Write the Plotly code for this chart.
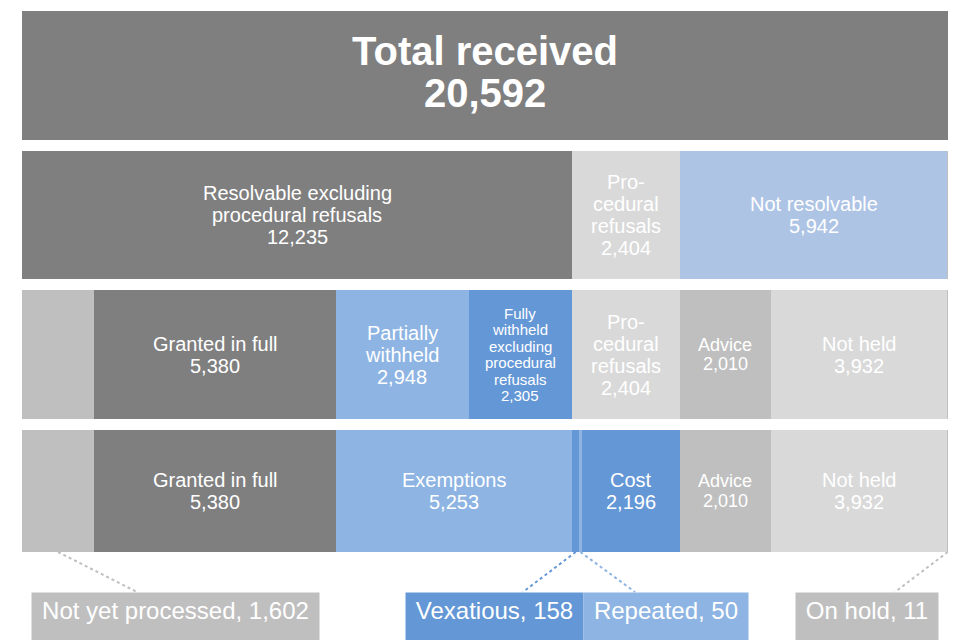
import plotly.graph_objects as go

# ---- data -------------------------------------------------------------
TOTAL_RECEIVED = 20592

row1_labels = ["Total received"]
row1_values = [20592]

row2_labels = ["Resolvable excluding<br>procedural refusals", "Pro-<br>cedural<br>refusals",
               "Not resolvable", ""]
row2_values = [12235, 2404, 5942, 11]

row3_labels = ["", "Granted in full", "Partially<br>withheld",
               "Fully<br>withheld<br>excluding<br>procedural<br>refusals",
               "Pro-<br>cedural<br>refusals", "Advice", "Not held", ""]
row3_values = [1602, 5380, 2948, 2305, 2404, 2010, 3932, 11]

row4_labels = ["", "Granted in full", "Exemptions", "", "", "Cost", "Advice", "Not held", ""]
row4_values = [1602, 5380, 5253, 158, 50, 2196, 2010, 3932, 11]

callout_labels = ["Not yet processed", "Vexatious", "Repeated", "On hold"]
callout_values = [1602, 158, 50, 11]
callout_segment = [0, 3, 4, 8]  # row-4 segment each callout points at

# ---- styles -----------------------------------------------------------
DARK = "#7f7f7f"
LIGHT = "#d9d9d9"
MID = "#bfbfbf"
BLUE_L = "#8db4e2"
BLUE_M = "#6497d6"
BLUE_P = "#aec4e5"
FONT = "Liberation Sans, Arial, sans-serif"

L_MARGIN, R_MARGIN, W, H = 22, 12, 960, 640
PLOT_W = W - L_MARGIN - R_MARGIN

rows = [
    dict(labels=row1_labels, values=row1_values, colors=[DARK], sizes=[40],
         y=75.5, h=129, bold=True, spacing=1.05, shift=-4),
    dict(labels=row2_labels, values=row2_values, colors=[DARK, LIGHT, BLUE_P, MID],
         sizes=[20, 20, 20, 10], y=215, h=128),
    dict(labels=row3_labels, values=row3_values,
         colors=[MID, DARK, BLUE_L, BLUE_M, LIGHT, MID, LIGHT, MID],
         sizes=[10, 20, 20, 15, 20, 18, 20, 10], y=354.5, h=129),
    dict(labels=row4_labels, values=row4_values,
         colors=[MID, DARK, BLUE_L, BLUE_M, BLUE_L, BLUE_M, MID, LIGHT, MID],
         sizes=[10, 20, 20, 10, 10, 20, 18, 20, 10], y=491, h=122),
]


def px_to_x(p):
    return (p - L_MARGIN) / PLOT_W * TOTAL_RECEIVED


fig = go.Figure()
row4_bases = []
for r in rows:
    bases, acc = [], 0
    for v in r["values"]:
        bases.append(acc)
        acc += v
    fig.add_trace(go.Bar(
        orientation="h", x=r["values"], base=bases, y=[r["y"]] * len(r["values"]),
        width=[r["h"]] * len(r["values"]),
        marker=dict(color=r["colors"], line=dict(width=0)),
        hoverinfo="skip", showlegend=False,
    ))
    row4_bases = bases

    # segment labels, one line at a time so the line spacing stays tight
    for lab, v, b, size in zip(r["labels"], r["values"], bases, r["sizes"]):
        if not lab:
            continue
        lines = lab.split("<br>") + [f"{v:,}"]
        step = size * r.get("spacing", 1.1)
        top = r["y"] + r.get("shift", 0) - step * (len(lines) - 1) / 2
        for k, line in enumerate(lines):
            fig.add_annotation(
                x=b + v / 2, y=top + k * step, xref="x", yref="y",
                text=f"<b>{line}</b>" if r.get("bold") else line, showarrow=False,
                xanchor="center", yanchor="middle",
                font=dict(color="white", size=size, family=FONT),
            )

# callout boxes below the last row
box_left = [31, 405, 583, 795]
box_width = [287, 177, 164, 142]
box_color = [MID, BLUE_M, BLUE_L, MID]
line_end = [137, 523, 635, 895]
line_color = [MID, BLUE_M, BLUE_L, MID]
BOX_TOP, BOX_H, BOX_PAD, BAR_BOTTOM = 592, 40, 4, 552

for i, (lab, v) in enumerate(zip(callout_labels, callout_values)):
    fig.add_annotation(
        x=px_to_x(box_left[i]), y=BOX_TOP, xref="x", yref="y", xanchor="left", yanchor="top",
        text=f"{lab}, {v:,}", showarrow=False, width=box_width[i] - 2 * BOX_PAD, height=BOX_H,
        bgcolor=box_color[i], borderpad=BOX_PAD, align="center", valign="top",
        font=dict(color="white", size=24, family=FONT),
    )
    seg = callout_segment[i]
    seg_mid = row4_bases[seg] + row4_values[seg] / 2
    fig.add_shape(type="line", xref="x", yref="y", x0=seg_mid, y0=BAR_BOTTOM,
                  x1=px_to_x(line_end[i]), y1=BOX_TOP,
                  line=dict(color=line_color[i], width=2, dash="dot"))

fig.update_layout(
    width=W, height=H, barmode="overlay", bargap=0,
    margin=dict(l=L_MARGIN, r=R_MARGIN, t=0, b=0),
    paper_bgcolor="white", plot_bgcolor="white",
    font=dict(family=FONT),
    xaxis=dict(range=[0, TOTAL_RECEIVED], visible=False, fixedrange=True),
    yaxis=dict(range=[H, 0], visible=False, fixedrange=True),
)

fig.write_html("out.html", config={"displayModeBar": False},
               post_script="document.body.style.margin = '0px';")
